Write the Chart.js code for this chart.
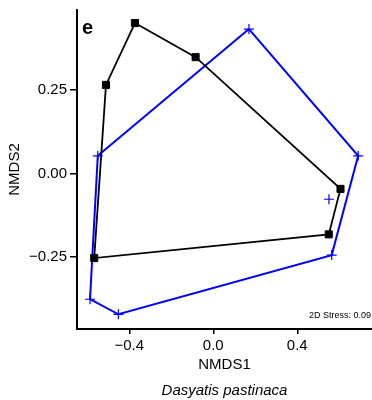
<!DOCTYPE html>
<html lang="en">
<head>
<meta charset="UTF-8">
<title>NMDS - Dasyatis pastinaca</title>
<style>
  body{margin:0;background:#fff;}
  canvas{display:block;}
</style>
</head>
<body>
<canvas id="nmds" width="372" height="400"></canvas>

<script src="https://cdn.jsdelivr.net/npm/chart.js@4.4.1"></script>
<script>
/* ---------- data ---------- */
// group 1: black squares
const blackX = [-0.373, -0.084, -0.511, 0.606, 0.550, -0.567];
const blackY = [ 0.450,  0.348,  0.265, -0.046, -0.182, -0.253];
const blackHull = [0, 1, 3, 4, 5, 2, 0];

// group 2: blue crosses
const blueX = [0.170, 0.690, 0.551, 0.564, -0.452, -0.587, -0.550];
const blueY = [0.432, 0.053, -0.077, -0.244, -0.421, -0.376, 0.053];
const blueHull = [0, 1, 3, 4, 5, 6, 0];

const xTicks = [-0.4, 0, 0.4];
const yTicks = [-0.25, 0, 0.25];

const panelLabel = 'e';
const stressText = '2D Stress: 0.09';
const caption = 'Dasyatis pastinaca';

/* ---------- helpers ---------- */
const pts = (xs, ys) => xs.map((x, i) => ({x: x, y: ys[i]}));
const hull = (xs, ys, order) => order.map(i => ({x: xs[i], y: ys[i]}));
const minus = s => s.replace('-', '\u2212');

const FONT = 'Liberation Sans, Arial, Helvetica, sans-serif';

/* ---------- extra text: panel letter + stress ---------- */
const notesPlugin = {
  id: 'notes',
  afterDraw(chart){
    const {ctx, chartArea} = chart;
    ctx.save();
    ctx.fillStyle = '#000';
    ctx.font = 'bold 20px ' + FONT;
    ctx.textAlign = 'left';
    ctx.textBaseline = 'alphabetic';
    ctx.fillText(panelLabel, chartArea.left + 5, 34);
    ctx.font = '9px ' + FONT;
    ctx.textAlign = 'right';
    ctx.fillText(stressText, chartArea.right - 1, chartArea.bottom - 11);
    ctx.restore();
  }
};

// no auto padding for edge labels, we want the axes flush with the canvas
const noPad = s => { s.paddingLeft = 0; s.paddingRight = 0; s.paddingTop = 0; s.paddingBottom = 0; };

new Chart(document.getElementById('nmds'), {
  type: 'scatter',
  data: {
    datasets: [
      {
        data: hull(blueX, blueY, blueHull),
        showLine: true, borderColor: '#0000ff', borderWidth: 2,
        pointRadius: 0, order: 4
      },
      {
        data: pts(blueX, blueY),
        pointStyle: 'cross', pointRadius: 5, borderColor: '#0000ff',
        pointBorderWidth: 1.2, order: 3
      },
      {
        data: hull(blackX, blackY, blackHull),
        showLine: true, borderColor: '#000', borderWidth: 1.8,
        pointRadius: 0, order: 2
      },
      {
        data: pts(blackX, blackY),
        pointStyle: 'rect', pointRadius: 5, backgroundColor: '#000',
        borderColor: '#000', pointBorderWidth: 1, order: 1
      }
    ]
  },
  options: {
    responsive: false,
    animation: false,
    layout: {autoPadding: false, padding: {top: 10, right: 0, bottom: 0, left: 0}},
    plugins: {
      legend: {display:false},
      tooltip: {enabled:false},
      title: {
        display: true, position: 'bottom', fullSize: false,
        text: caption, color: '#000',
        font: {family: FONT, size: 15, style: 'italic', weight: 'normal', lineHeight: 1.2},
        padding: {top: 3, bottom: 0}
      }
    },
    scales: {
      x: {
        type: 'linear', min: -0.649, max: 0.756,
        afterBuildTicks: s => { s.ticks = xTicks.map(v => ({value: v})); },
        afterFit: s => { s.height = 50; noPad(s); },
        ticks: {color:'#000', padding:3, font:{family:FONT, size:15},
                callback: v => minus(v.toFixed(1))},
        grid: {display:true, drawOnChartArea:false, tickLength:5, color:'#000', lineWidth:1.5},
        border: {display:true, color:'#000', width:2},
        title: {display:true, text:'NMDS1', color:'#000',
                font:{family:FONT, size:15}, padding:{top:0, bottom:5}}
      },
      y: {
        type: 'linear', min: -0.465, max: 0.489,
        afterBuildTicks: s => { s.ticks = yTicks.map(v => ({value: v})); },
        afterFit: s => { s.width = 77; noPad(s); },
        ticks: {color:'#000', padding:3, font:{family:FONT, size:15},
                callback: v => minus(v.toFixed(2))},
        grid: {display:true, drawOnChartArea:false, tickLength:7, color:'#000', lineWidth:1.5},
        border: {display:true, color:'#000', width:2},
        title: {display:true, text:'NMDS2', color:'#000',
                font:{family:FONT, size:15}, padding:{top:6, bottom:0}}
      }
    }
  },
  plugins: [notesPlugin]
});
</script>
</body>
</html>
